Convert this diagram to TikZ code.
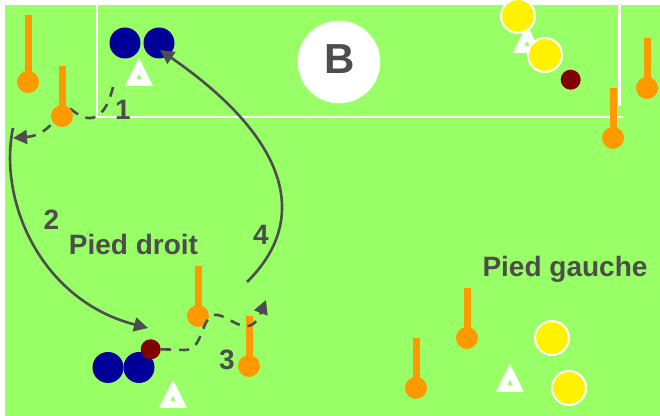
\documentclass[tikz,border=0pt]{standalone}
\usepackage{fontspec}
\setmainfont{Liberation Sans}
\usepackage{tikz}
\usetikzlibrary{arrows.meta}
\definecolor{pitch}{RGB}{153,255,102}
\definecolor{coneorange}{RGB}{255,153,0}
\definecolor{navy}{RGB}{0,0,153}
\definecolor{ballred}{RGB}{128,0,0}
\definecolor{inkgray}{RGB}{77,77,77}

\begin{document}
\begin{tikzpicture}[x=0.5pt,y=-0.5pt,
  markline/.style={white, line width=1.4pt},
  polebar/.style={coneorange, line width=3.5pt},
  conehead/.style={circle, fill=coneorange, inner sep=0pt, minimum size=11pt},
  bluedot/.style={circle, fill=navy, inner sep=0pt, minimum size=15.5pt},
  yellowdot/.style={circle, fill=yellow, draw=white, line width=1pt, inner sep=0pt, minimum size=17pt},
  ball/.style={circle, fill=ballred, inner sep=0pt, minimum size=10pt},
  lbl/.style={text=inkgray, font=\bfseries\fontsize{14}{14}\selectfont, anchor=base, inner sep=0pt},
  run/.style={inkgray, line width=1.3pt, -{Triangle[length=7pt,width=7pt]}},
  pass/.style={run, dash pattern=on 5pt off 4pt}]
\useasboundingbox (0,0) rectangle (660,416);
\fill[white] (0,0) rectangle (660,416);
\fill[pitch] (5,5.5) rectangle (660,416);

% penalty area
\draw[markline] (97,5) -- (97,117) -- (623,117);
\draw[markline] (619.5,5) -- (619.5,106);
\node[circle, fill=white, inner sep=0pt, minimum size=41.3pt] (goal) at (339,62) {};
\node[lbl, font=\bfseries\fontsize{21}{21}\selectfont] (goaltxt) at (339.5,74) {B};

% pass 1
\coordinate (p1s) at (113,87);
\coordinate (p1e) at (13,138);
\draw[pass] (p1s) .. controls (105,120) and (90,125) .. (72,110)
  .. controls (60,102) and (55,135) .. (p1e);

% poles
\foreach \n/\x/\t/\y in {1/28/15/82, 2/62/66/116, 3/647/38/88, 4/613/88/138,
  5/198/266/316, 6/249/316/366, 7/467/288/338, 8/416/338/388}{
  \draw[polebar] (\x,\t) -- (\x,\y);
  \node[conehead] (c\n) at (\x,\y) {};
}

% markers
\foreach \x/\y in {139/77, 527/44, 173/399, 510/383}{
  \fill[white] ({\x-14},{\y+9}) -- (\x,{\y-19}) -- ({\x+14},{\y+9}) -- cycle;
  \fill[pitch] ({\x-2.5},{\y+2}) -- (\x,{\y-3}) -- ({\x+2.5},{\y+2}) -- cycle;
}

% players
\node[bluedot] (b1) at (125,43) {};
\node[bluedot] (b2) at (159,43) {};
\node[bluedot] (b3) at (108,367.5) {};
\node[bluedot] (b4) at (139,367.5) {};
\node[yellowdot] (y1) at (518,16) {};
\node[yellowdot] (y2) at (545,55) {};
\node[yellowdot] (y3) at (552,338) {};
\node[yellowdot] (y4) at (569,388) {};
\node[ball] (ballA) at (570.7,79.7) {};
\node[ball] (ballB) at (150.7,349.3) {};

% runs
\coordinate (r2s) at (13,128);
\coordinate (r2e) at (148,328);
\draw[run] (r2s) .. controls (-2,200) and (40,300) .. (r2e);
\coordinate (p3e) at (266,300);
\draw[pass] (ballB.east) -- (185,350) .. controls (205,350) and (200,312) .. (218,315)
  .. controls (232,318) and (250,340) .. (p3e);
\coordinate (r4s) at (247,282);
\coordinate (r4e) at (160,50);
\draw[run] (r4s) .. controls (310,220) and (290,140) .. (r4e);

% labels
\node[lbl] (n1) at (123,120) {1};
\node[lbl] (n2) at (51.3,230) {2};
\node[lbl] (n3) at (227,370) {3};
\node[lbl] (n4) at (260.8,245) {4};
\node[lbl] (droit) at (133.5,255) {Pied droit};
\node[lbl] (gauche) at (565,276.7) {Pied gauche};
\end{tikzpicture}
\end{document}
